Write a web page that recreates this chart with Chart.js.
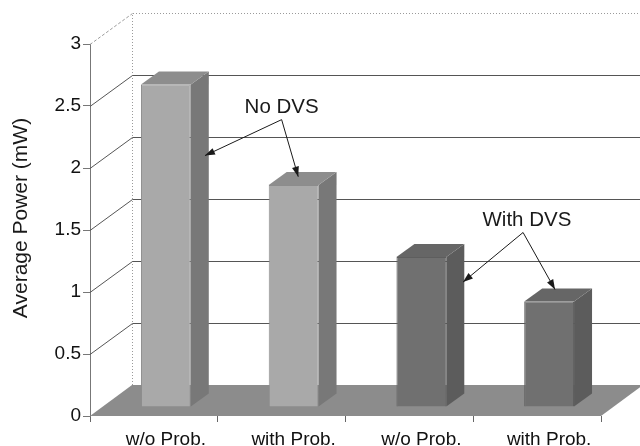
<!DOCTYPE html>
<html>
<head>
<meta charset="utf-8">
<script src="https://cdn.jsdelivr.net/npm/chart.js@4/dist/chart.umd.min.js"></script>
<style>
  html, body { margin: 0; padding: 0; background: #ffffff; }
  #wrap { width: 640px; height: 446px; }
</style>
</head>
<body>
<div id="wrap"><canvas id="c" width="640" height="446"></canvas></div>
<script>
// Average power per configuration, in mW
const categories = ['w/o Prob.', 'with Prob.', 'w/o Prob.', 'with Prob.'];
const noDvsPower = [2.60, 1.79, null, null];
const withDvsPower = [null, null, 1.21, 0.85];
const yTicks = [0, 0.5, 1, 1.5, 2, 2.5, 3];
const yTitle = 'Average Power (mW)';

// Oblique depth of the box (back wall offset) and of the bars inside it
const WALL_DX = 42, WALL_DY = -31;
const BAR_SHIFT_X = 12, BAR_SHIFT_Y = -9;   // bars sit a little behind the front edge
const BAR_DX = 18, BAR_DY = -13;            // bar thickness in depth

const FONT = '"Liberation Sans", Arial, Helvetica, sans-serif';

const faces = {
  light: { front: '#a9a9a9', top: '#8d8d8d', side: '#787878', edge: '#8c8c8c' },
  dark:  { front: '#707070', top: '#666666', side: '#5c5c5c', edge: '#5e5e5e' }
};

// Callout labels with arrows, in (category index, value) units
const callouts = [
  { text: 'No DVS',   at: [1.00, 2.49], from: [1.00, 2.39], to: [[0.40, 2.10], [1.13, 1.93]] },
  { text: 'With DVS', at: [2.92, 1.58], from: [2.89, 1.48], to: [[2.42, 1.08], [3.14, 1.02]] }
];

function polygon(ctx, pts, fill) {
  ctx.beginPath();
  ctx.moveTo(pts[0][0], pts[0][1]);
  for (let i = 1; i < pts.length; i++) ctx.lineTo(pts[i][0], pts[i][1]);
  ctx.closePath();
  ctx.fillStyle = fill;
  ctx.fill();
}

function arrow(ctx, x0, y0, x1, y1) {
  ctx.beginPath();
  ctx.moveTo(x0, y0);
  ctx.lineTo(x1, y1);
  ctx.stroke();
  const ang = Math.atan2(y1 - y0, x1 - x0);
  const len = 10, half = 3.5;
  const bx = x1 - len * Math.cos(ang), by = y1 - len * Math.sin(ang);
  ctx.beginPath();
  ctx.moveTo(x1, y1);
  ctx.lineTo(bx + half * Math.sin(ang), by - half * Math.cos(ang));
  ctx.lineTo(bx - half * Math.sin(ang), by + half * Math.cos(ang));
  ctx.closePath();
  ctx.fill();
}

const box3d = {
  id: 'box3d',
  beforeDatasetsDraw(chart) {
    const { ctx, chartArea: a, scales: { x, y } } = chart;
    ctx.save();
    ctx.lineWidth = 1;

    // back wall outline: dotted left and top edges
    const top = Math.round(y.getPixelForValue(3) + WALL_DY) + 0.5;
    const bx = Math.round(a.left + WALL_DX) + 0.5;
    ctx.strokeStyle = '#9a9a9a';
    ctx.setLineDash([1, 2]);
    ctx.beginPath();
    ctx.moveTo(bx, Math.round(y.getPixelForValue(0) + WALL_DY));
    ctx.lineTo(bx, top);
    ctx.lineTo(chart.width, top);
    ctx.stroke();

    // side wall edge at the top value: dashed
    ctx.setLineDash([3, 2]);
    ctx.beginPath();
    ctx.moveTo(a.left, y.getPixelForValue(3) + 0.5);
    ctx.lineTo(bx, top);
    ctx.stroke();
    ctx.setLineDash([]);

    // gridlines: diagonal on the side wall, horizontal on the back wall
    ctx.strokeStyle = '#555555';
    yTicks.forEach(v => {
      if (v <= 0 || v >= 3) return;
      const py = Math.round(y.getPixelForValue(v)) + 0.5;
      ctx.beginPath();
      ctx.moveTo(a.left, py);
      ctx.lineTo(bx, py + WALL_DY);
      ctx.lineTo(chart.width, py + WALL_DY);
      ctx.stroke();
    });

    // floor
    const fy = y.getPixelForValue(0);
    polygon(ctx, [[a.left, fy], [a.right, fy], [a.right + WALL_DX, fy + WALL_DY], [a.left + WALL_DX, fy + WALL_DY]], '#8c8c8c');
    ctx.restore();

    // bars are drawn slightly behind the front edge of the floor
    ctx.save();
    ctx.translate(BAR_SHIFT_X, BAR_SHIFT_Y);
  },
  afterDatasetsDraw(chart) {
    const { ctx, scales: { x, y } } = chart;
    chart.data.datasets.forEach((ds, di) => {
      const meta = chart.getDatasetMeta(di);
      const f = faces[ds.shade];
      meta.data.forEach((bar, i) => {
        if (ds.data[i] == null) return;
        const { x: cx, y: ty, base, width } = bar.getProps(['x', 'y', 'base', 'width'], true);
        const l = cx - width / 2, r = cx + width / 2;
        polygon(ctx, [[r, ty], [r + BAR_DX, ty + BAR_DY], [r + BAR_DX, base + BAR_DY], [r, base]], f.side);
        polygon(ctx, [[l, ty], [l + BAR_DX, ty + BAR_DY], [r + BAR_DX, ty + BAR_DY], [r, ty]], f.top);
      });
    });
    ctx.restore();

    // callouts
    ctx.save();
    ctx.strokeStyle = '#1a1a1a';
    ctx.fillStyle = '#1a1a1a';
    ctx.lineWidth = 1;
    ctx.font = '20.5px ' + FONT;
    ctx.textAlign = 'center';
    ctx.textBaseline = 'middle';
    callouts.forEach(c => {
      ctx.fillText(c.text, x.getPixelForValue(c.at[0]), y.getPixelForValue(c.at[1]));
      const sx = x.getPixelForValue(c.from[0]), sy = y.getPixelForValue(c.from[1]);
      c.to.forEach(t => arrow(ctx, sx, sy, x.getPixelForValue(t[0]), y.getPixelForValue(t[1])));
    });
    ctx.restore();
  },
  afterDraw(chart) {
    const { ctx } = chart;
    ctx.save();
    ctx.fillStyle = '#1a1a1a';
    ctx.font = '21px ' + FONT;
    ctx.textAlign = 'center';
    ctx.textBaseline = 'middle';
    ctx.translate(21, 218);
    ctx.rotate(-Math.PI / 2);
    ctx.fillText(yTitle, 0, 0);
    ctx.restore();
  }
};

new Chart(document.getElementById('c'), {
  type: 'bar',
  data: {
    labels: categories,
    datasets: [
      { label: 'No DVS', data: noDvsPower, shade: 'light',
        backgroundColor: faces.light.front, borderColor: faces.light.edge, borderWidth: 1 },
      { label: 'With DVS', data: withDvsPower, shade: 'dark',
        backgroundColor: faces.dark.front, borderColor: faces.dark.edge, borderWidth: 1 }
    ]
  },
  options: {
    responsive: false,
    animation: false,
    skipNull: true,
    categoryPercentage: 1,
    barPercentage: 0.39,
    layout: { padding: { top: 44, right: 39, bottom: 0, left: 0 } },
    plugins: { legend: { display: false }, tooltip: { enabled: false } },
    scales: {
      x: {
        offset: true,
        afterFit(s) { s.height = 30; },
        border: { display: false },
        grid: { drawOnChartArea: false, drawTicks: true, tickLength: 6, color: '#666666', offset: true },
        ticks: { labelOffset: BAR_SHIFT_X, padding: 6, color: '#111111', font: { family: FONT, size: 19 }, maxRotation: 0, autoSkip: false }
      },
      y: {
        min: 0, max: 3,
        afterFit(s) { s.width = 90; },
        afterBuildTicks(s) { s.ticks = yTicks.map(v => ({ value: v })); },
        border: { display: true, color: '#777777' },
        grid: { drawOnChartArea: false, drawTicks: true, tickLength: 7, color: '#777777' },
        ticks: { padding: 2, color: '#111111', font: { family: FONT, size: 19 }, callback: v => String(+v) }
      }
    }
  },
  plugins: [box3d]
});
</script>
</body>
</html>
